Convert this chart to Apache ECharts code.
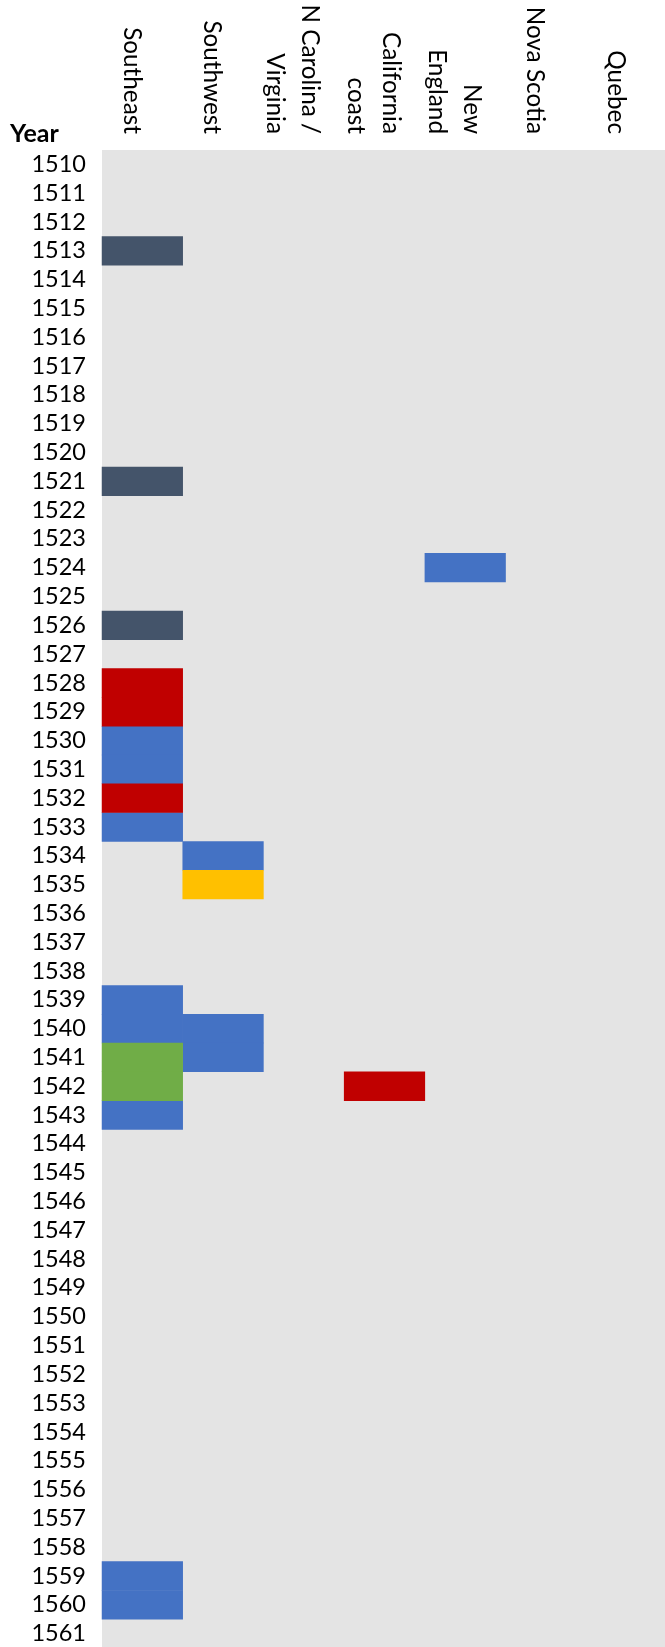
<!DOCTYPE html>
<html>
<head>
<meta charset="utf-8">
<script src="https://cdn.jsdelivr.net/npm/echarts@6/dist/echarts.min.js"></script>
<style>
  html, body { margin: 0; padding: 0; background: #fff; }
  #chart { width: 665px; height: 1647px; }
</style>
</head>
<body>
<div id="chart"></div>
<script>
// column headers (regions), tick labels as shown
const regions = ['Southeast', 'Southwest', 'N Carolina /\nVirginia', 'California\ncoast', 'New\nEngland', 'Nova Scotia', 'Quebec'];

const years = [
  '1510', '1511', '1512', '1513', '1514', '1515', '1516', '1517', '1518', '1519',
  '1520', '1521', '1522', '1523', '1524', '1525', '1526', '1527', '1528', '1529',
  '1530', '1531', '1532', '1533', '1534', '1535', '1536', '1537', '1538', '1539',
  '1540', '1541', '1542', '1543', '1544', '1545', '1546', '1547', '1548', '1549',
  '1550', '1551', '1552', '1553', '1554', '1555', '1556', '1557', '1558', '1559',
  '1560', '1561'
];

// filled cells: [region index, year]
const slateCells = [[0, '1513'], [0, '1521'], [0, '1526']];
const blueCells = [
  [4, '1524'], [0, '1530'], [0, '1531'], [0, '1533'], [1, '1534'],
  [0, '1539'], [0, '1540'], [1, '1540'], [1, '1541'], [0, '1543'],
  [0, '1559'], [0, '1560']
];
const redCells = [[0, '1528'], [0, '1529'], [0, '1532'], [3, '1542']];
const yellowCells = [[1, '1535']];
const greenCells = [[0, '1541'], [0, '1542']];

const font = 'Lato';

const cellSeries = (name, cells, color) => ({
  name: name,
  type: 'heatmap',
  data: cells.map(c => [c[0], c[1], 1]),
  itemStyle: { color: color, borderWidth: 0 },
  emphasis: { disabled: true }
});

let mychart = echarts.init(document.getElementById('chart'), null, { renderer: 'canvas' });

let option = {
  animation: false,
  textStyle: { fontFamily: font },
  title: {
    text: 'Year',
    left: 10,
    top: 121,
    padding: 0,
    textStyle: { fontFamily: font, fontSize: 25, fontWeight: 'bold', color: '#000' }
  },
  grid: [
    {
      left: 102,
      top: 150,
      width: 565,
      height: 1498,
      show: true,
      backgroundColor: '#E4E4E4',
      borderWidth: 0,
      outerBoundsMode: 'none'
    },
    {
      // header labels sit a little left of the column centres
      left: 91,
      top: 150,
      width: 565,
      height: 10,
      show: false,
      outerBoundsMode: 'none'
    }
  ],
  xAxis: [
    {
      type: 'category',
      gridIndex: 0,
      position: 'top',
      data: regions,
      axisLine: { show: false },
      axisTick: { show: false },
      splitLine: { show: false },
      axisLabel: { show: false }
    },
    {
      type: 'category',
      gridIndex: 1,
      position: 'top',
      data: regions,
      axisLine: { show: false, onZero: false },
      axisTick: { show: false },
      splitLine: { show: false },
      axisLabel: {
        interval: 0,
        rotate: 90,
        align: 'right',
        verticalAlign: 'middle',
        margin: 16,
        fontSize: 24.3,
        lineHeight: 35,
        color: '#000',
        fontFamily: font
      }
    }
  ],
  yAxis: [
    {
      type: 'category',
      gridIndex: 0,
      inverse: true,
      data: years,
      axisLine: { show: false },
      axisTick: { show: false },
      splitLine: { show: false },
      axisLabel: {
        interval: 0,
        margin: 16,
        fontSize: 23.5,
        color: '#000',
        fontFamily: font
      }
    },
    {
      type: 'category',
      gridIndex: 1,
      data: [''],
      show: false
    }
  ],
  series: [
    cellSeries('slate', slateCells, '#44546A'),
    cellSeries('blue', blueCells, '#4472C4'),
    cellSeries('red', redCells, '#C00000'),
    cellSeries('yellow', yellowCells, '#FFC000'),
    cellSeries('green', greenCells, '#70AD47')
  ]
};

mychart.setOption(option);
</script>
</body>
</html>
